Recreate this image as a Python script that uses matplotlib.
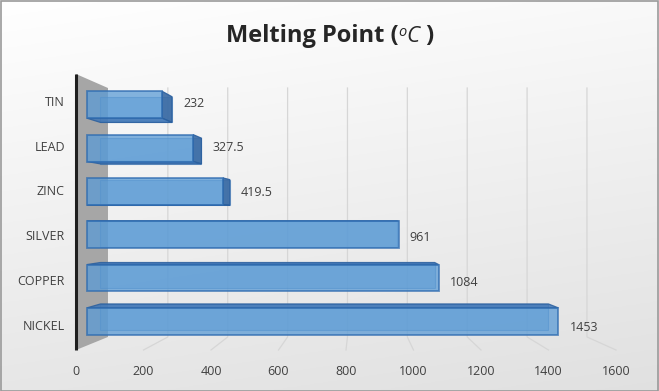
import matplotlib
matplotlib.use("Agg")
import matplotlib.pyplot as plt
import numpy as np
from matplotlib.patches import Polygon, Rectangle

metals = ["TIN", "LEAD", "ZINC", "SILVER", "COPPER", "NICKEL"]
melt_c = [232, 327.5, 419.5, 961, 1084, 1453]
value_labels = ["232", "327.5", "419.5", "961", "1084", "1453"]
xticks = [0, 200, 400, 600, 800, 1000, 1200, 1400, 1600]

# fake 3d: front plane is depth 0, back wall is depth 1
XC, YC = 838.5, 2.59      # vanishing centre in data units
KX, KY = 0.113, 0.098     # shrink at the back wall
TOP, BOT = -0.6, 5.56     # front plane extent of the category axis
D1, D2 = 0.345, 0.765     # bar depth range
H = 0.31                  # half bar height

def proj(v, i, d):
    return XC + (v - XC) * (1 - KX * d), YC + (i - YC) * (1 - KY * d)

fig = plt.figure(figsize=(6.59, 3.91), dpi=100)
plt.rcParams['font.family'] = ['Open Sans', 'DejaVu Sans']

# background gradient + border
bg = fig.add_axes([0, 0, 1, 1], zorder=-10)
yy, xx = np.mgrid[0:1:200j, 0:1:300j]
g = 1 - 0.12 * (0.8 * yy + 0.2 * xx)
bg.imshow(np.dstack([g, g, g]), aspect='auto', extent=[0, 1, 0, 1], origin='upper')
bg.add_patch(Rectangle((0.001, 0.001), 0.998, 0.997, fill=False, ec='#9a9a9a', lw=1.2))
bg.set_xlim(0, 1)
bg.set_ylim(0, 1)
bg.axis('off')

ax = fig.add_axes([76 / 659, 41 / 391, 540 / 659, 276 / 391])
ax.set_xlim(0, 1600)
ax.set_ylim(BOT, TOP)
ax.patch.set_alpha(0)
for s in ax.spines.values():
    s.set_visible(False)

# back wall (side wall at 0) and grid
wall = [proj(0, TOP, 0), proj(0, TOP, 1), proj(0, BOT, 1), proj(0, BOT, 0)]
ax.add_patch(Polygon(wall, closed=True, fc='#a6a6a6', ec='none', zorder=1, clip_on=False))
for v in xticks[1:]:
    x1, y1 = proj(v, TOP, 1)
    x2, y2 = proj(v, BOT, 1)
    x3, y3 = proj(v, BOT, 0)
    ax.plot([x1, x2, x3], [y1, y2, y3], color='#d6d6d6', lw=0.9, zorder=1, clip_on=False)

# bars
for i, v in enumerate(melt_c):
    z = 3 + i * 0.01
    back = [proj(0, i - H, D2), proj(v, i - H, D2), proj(v, i + H, D2), proj(0, i + H, D2)]
    ax.add_patch(Polygon(back, closed=True, fc='#5b9bd5', alpha=0.5, ec='#2f6eb5', lw=0.8, zorder=z, clip_on=False))
    if v < XC:
        side = [proj(v, i - H, D1), proj(v, i - H, D2), proj(v, i + H, D2), proj(v, i + H, D1)]
        ax.add_patch(Polygon(side, closed=True, fc='#3a6aa3', alpha=0.9, ec='#2a5f9e', lw=0.9, zorder=z + 0.001, clip_on=False))
    edge = i + H if i + H < YC else i - H
    cap = [proj(0, edge, D1), proj(v, edge, D1), proj(v, edge, D2), proj(0, edge, D2)]
    ax.add_patch(Polygon(cap, closed=True, fc='#3f75b5', alpha=0.85, ec='#2a5f9e', lw=0.9, zorder=z + 0.002, clip_on=False))
    front = [proj(0, i - H, D1), proj(v, i - H, D1), proj(v, i + H, D1), proj(0, i + H, D1)]
    ax.add_patch(Polygon(front, closed=True, fc='#5b9bd5', alpha=0.75, ec='#2e6bb0', lw=1.3, zorder=z + 0.003, clip_on=False))
    xr = max(proj(v, i, D1)[0], proj(v, i, D2)[0])
    ax.text(xr + 33, i + 0.05, value_labels[i], fontsize=9, color='#404040',
            va='center', ha='left', zorder=6)

# front axis line
ax.plot([0, 0], [TOP, BOT], color='#1f1f1f', lw=2.2, zorder=5, clip_on=False, solid_capstyle='butt')

ax.set_xticks(xticks)
ax.set_xticklabels([str(t) for t in xticks])
ax.set_yticks(range(len(metals)))
ax.set_yticklabels(metals)
ax.tick_params(axis='x', length=0, pad=11, labelsize=9, labelcolor='#404040')
ax.tick_params(axis='y', length=0, pad=8, labelsize=9, labelcolor='#404040')

# title made of pieces: bold text, superscript o, italic C
fig.canvas.draw()
r = fig.canvas.get_renderer()
parts = [("Melting Point (", dict(weight='bold', size=17), 0.0),
         ("o", dict(size=10.5, style='italic'), 6.5),
         ("C", dict(size=16, style='italic'), 0.0),
         (" )", dict(weight='bold', size=17), 0.0)]
base_y = 1 - 42 / 391
texts = []
for s, kw, dy in parts:
    t = fig.text(0, base_y + dy / 391, s, color='#262626', ha='left', va='baseline', **kw)
    texts.append(t)
widths = [t.get_window_extent(r).width for t in texts]
x = 330 - sum(widths) / 2
for t, w in zip(texts, widths):
    t.set_x(x / 659)
    x += w

fig.savefig("out.png", dpi=100)
